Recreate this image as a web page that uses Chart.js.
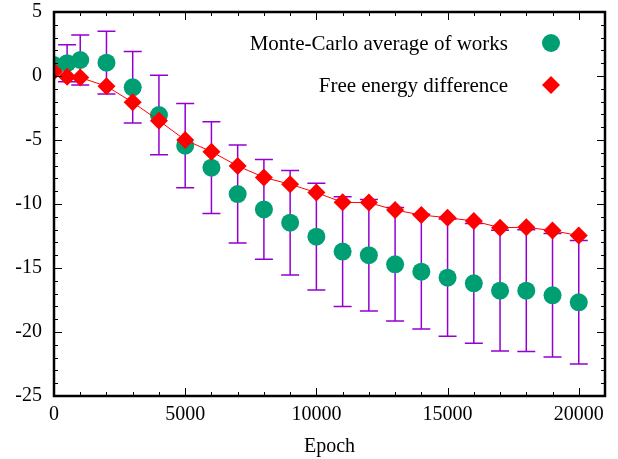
<!DOCTYPE html>
<html>
<head>
<meta charset="utf-8">
<script src="https://cdn.jsdelivr.net/npm/chart.js@4"></script>
<style>
  body { margin: 0; background: #fff; }
  canvas { display: block; }
</style>
</head>
<body>
<canvas id="workChart" width="618" height="459"></canvas>
<script>
// epochs and measured values
const epochs = [0, 500, 1000, 2000, 3000, 4000, 5000, 6000, 7000, 8000, 9000, 10000,
  11000, 12000, 13000, 14000, 15000, 16000, 17000, 18000, 19000, 20000];
const mcAverage = [0.86, 1.0, 1.25, 1.04, -0.88, -3.05, -5.44, -7.16, -9.22, -10.42, -11.46, -12.55,
  -13.72, -14.0, -14.71, -15.29, -15.76, -16.2, -16.77, -16.77, -17.13, -17.68];
const mcError = [0, 1.45, 1.95, 2.45, 2.8, 3.1, 3.3, 3.58, 3.82, 3.9, 4.08, 4.17,
  4.29, 4.36, 4.43, 4.48, 4.58, 4.68, 4.71, 4.76, 4.82, 4.82];
const freeEnergy = [0.36, -0.05, -0.12, -0.8, -2.06, -3.49, -5.0, -5.91, -7.03, -7.92, -8.46, -9.11,
  -9.87, -9.89, -10.47, -10.86, -11.07, -11.33, -11.85, -11.82, -12.08, -12.47];

const xTicks = [0, 5000, 10000, 15000, 20000];
const yTicks = [-25, -20, -15, -10, -5, 0, 5];

const seriesNames = ["Monte-Carlo average of works", "Free energy difference"];
const FONT = "'Liberation Serif', 'Times New Roman', serif";
const GREEN = "#009e73";
const RED = "#ff0000";
const VIOLET = "#9400d3";

// vertical bars with caps around the Monte-Carlo averages
const errorBars = {
  id: "errorBars",
  beforeDatasetsDraw(chart) {
    const { ctx, scales: { x, y } } = chart;
    ctx.save();
    ctx.strokeStyle = VIOLET;
    ctx.lineWidth = 1.5;
    epochs.forEach((e, i) => {
      if (!mcError[i]) return;
      const px = x.getPixelForValue(e);
      const top = y.getPixelForValue(mcAverage[i] + mcError[i]);
      const bot = y.getPixelForValue(mcAverage[i] - mcError[i]);
      ctx.beginPath();
      ctx.moveTo(px, top); ctx.lineTo(px, bot);
      ctx.moveTo(px - 9, top); ctx.lineTo(px + 9, top);
      ctx.moveTo(px - 9, bot); ctx.lineTo(px + 9, bot);
      ctx.stroke();
    });
    ctx.restore();
  }
};

// box frame with inward ticks on all four sides, plus the key
const frame = {
  id: "frame",
  afterDraw(chart) {
    const { ctx, chartArea: a, scales: { x, y } } = chart;
    ctx.save();
    ctx.strokeStyle = "#000";
    ctx.lineWidth = 1;
    ctx.beginPath();
    for (let v = 0; v <= 20000; v += 1000) {
      const px = Math.round(x.getPixelForValue(v)) + 0.5;
      const len = v % 5000 === 0 ? 8 : 4;
      ctx.moveTo(px, a.bottom); ctx.lineTo(px, a.bottom - len);
      ctx.moveTo(px, a.top); ctx.lineTo(px, a.top + len);
    }
    for (let v = -25; v <= 5; v += 1) {
      const py = Math.round(y.getPixelForValue(v)) + 0.5;
      const len = v % 5 === 0 ? 8 : 4;
      ctx.moveTo(a.left, py); ctx.lineTo(a.left + len, py);
      ctx.moveTo(a.right, py); ctx.lineTo(a.right - len, py);
    }
    ctx.stroke();
    ctx.lineWidth = 2.5;
    ctx.strokeRect(a.left, a.top, a.right - a.left, a.bottom - a.top);

    // key, text right-aligned with the symbol after it
    ctx.font = "21px " + FONT;
    ctx.fillStyle = "#000";
    ctx.textAlign = "right";
    ctx.textBaseline = "middle";
    ctx.fillText(seriesNames[0], 508, 44);
    ctx.fillText(seriesNames[1], 508, 86);
    ctx.fillStyle = GREEN;
    ctx.beginPath();
    ctx.arc(551, 43, 9, 0, Math.PI * 2);
    ctx.fill();
    ctx.fillStyle = RED;
    ctx.beginPath();
    ctx.moveTo(551, 76); ctx.lineTo(560, 85); ctx.lineTo(551, 94); ctx.lineTo(542, 85);
    ctx.closePath();
    ctx.fill();
    ctx.restore();
  }
};

new Chart(document.getElementById("workChart"), {
  type: "scatter",
  data: {
    datasets: [
      {
        label: seriesNames[0],
        data: epochs.map((e, i) => ({ x: e, y: mcAverage[i] })),
        pointStyle: "circle",
        pointRadius: 9,
        pointHoverRadius: 9,
        backgroundColor: GREEN,
        borderColor: GREEN,
        borderWidth: 0,
        showLine: false,
        order: 2
      },
      {
        label: seriesNames[1],
        data: epochs.map((e, i) => ({ x: e, y: freeEnergy[i] })),
        pointStyle: "rectRot",
        pointRadius: 9,
        pointHoverRadius: 9,
        backgroundColor: RED,
        pointBorderWidth: 0,
        borderColor: RED,
        borderWidth: 1,
        showLine: true,
        order: 1
      }
    ]
  },
  options: {
    responsive: false,
    animation: false,
    layout: { padding: { top: 12, right: 13, left: 0, bottom: 0 } },
    plugins: { legend: { display: false }, tooltip: { enabled: false } },
    scales: {
      x: {
        type: "linear",
        min: 0,
        max: 21000,
        afterBuildTicks: (s) => { s.ticks = xTicks.map((v) => ({ value: v })); },
        afterFit: (s) => { s.height = 63; s.paddingLeft = 0; s.paddingRight = 0; },
        grid: { display: false, drawTicks: false },
        border: { display: false },
        ticks: {
          padding: 7,
          maxRotation: 0,
          color: "#000",
          font: { family: FONT, size: 20 },
          callback: (v) => String(v)
        },
        title: {
          display: true,
          text: "Epoch",
          color: "#000",
          padding: { top: 8, bottom: 0 },
          font: { family: FONT, size: 20 }
        }
      },
      y: {
        min: -25,
        max: 5,
        afterBuildTicks: (s) => { s.ticks = yTicks.map((v) => ({ value: v })); },
        afterFit: (s) => { s.width = 54; s.paddingTop = 0; s.paddingBottom = 0; },
        grid: { display: false, drawTicks: false },
        border: { display: false },
        ticks: {
          padding: 12,
          color: "#000",
          font: { family: FONT, size: 20 },
          callback: (v) => String(v)
        }
      }
    }
  },
  plugins: [errorBars, frame]
});
</script>
</body>
</html>
